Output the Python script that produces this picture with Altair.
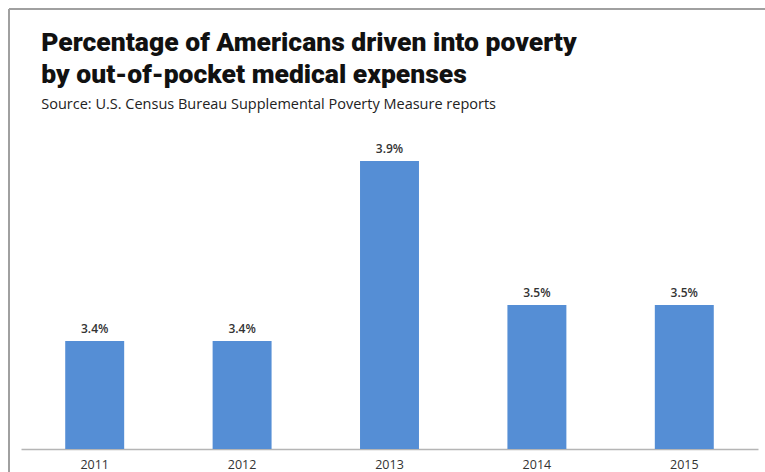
import altair as alt
import pandas as pd

years = ["2011", "2012", "2013", "2014", "2015"]
values = [3.4, 3.4, 3.9, 3.5, 3.5]
labels = ["3.4%", "3.4%", "3.9%", "3.5%", "3.5%"]
y_min = 3.1
y_max = 4.0

df = pd.DataFrame({"year": years, "value": values, "label": labels})

W, H = 737, 324

x_enc = alt.X(
    "year:N",
    sort=years,
    scale=alt.Scale(paddingInner=0.6, paddingOuter=0.3),
    axis=alt.Axis(
        title=None, ticks=False, labelAngle=0, labelFont="Open Sans",
        labelFontSize=12.5, labelColor="#333333", labelPadding=9,
        domainColor="#b5b5b5", domainWidth=1.5,
    ),
)
y_scale = alt.Scale(domain=[y_min, y_max], zero=False, nice=False)

bars = alt.Chart(df).mark_bar(color="#558ED5").encode(
    x=x_enc,
    y=alt.Y("value:Q", scale=y_scale, axis=None),
    y2=alt.datum(y_min),
)

text = alt.Chart(df).mark_text(
    dy=-12, font="Open Sans", fontSize=12, color="#333333", fontWeight=600
).encode(
    x=alt.X("year:N", sort=years),
    y=alt.Y("value:Q", scale=y_scale, axis=None),
    text="label:N",
)

frame_top = alt.Chart(df).mark_rule(color="#a0a0a0", strokeWidth=1.5).encode(
    x=alt.value(-12), x2=alt.value(744), y=alt.value(-116)
)
frame_left = alt.Chart(df).mark_rule(color="#a0a0a0", strokeWidth=1.5).encode(
    x=alt.value(-12), y=alt.value(-116), y2=alt.value(347)
)

chart = (
    alt.layer(frame_top, frame_left, bars, text)
    .properties(
        width=W,
        height=H,
        autosize=alt.AutoSizeParams(type="none"),
        padding={"left": 21, "top": 125, "right": 7, "bottom": 23},
        title=alt.TitleParams(
            text=["Percentage of Americans driven into poverty",
                  "by out-of-pocket medical expenses"],
            subtitle="Source: U.S. Census Bureau Supplemental Poverty Measure reports",
            anchor="start",
            dx=33,
            offset=-103,
            font="Roboto",
            fontSize=26.5,
            fontWeight=900,
            color="#111111",
            lineHeight=32,
            subtitleFont="Open Sans",
            subtitleFontSize=14.5,
            subtitleColor="#222222",
            subtitlePadding=9,
        ),
    )
    .configure_view(stroke="transparent", strokeWidth=0)
)

chart.save("out.html", embed_options={"renderer": "svg", "actions": False})
